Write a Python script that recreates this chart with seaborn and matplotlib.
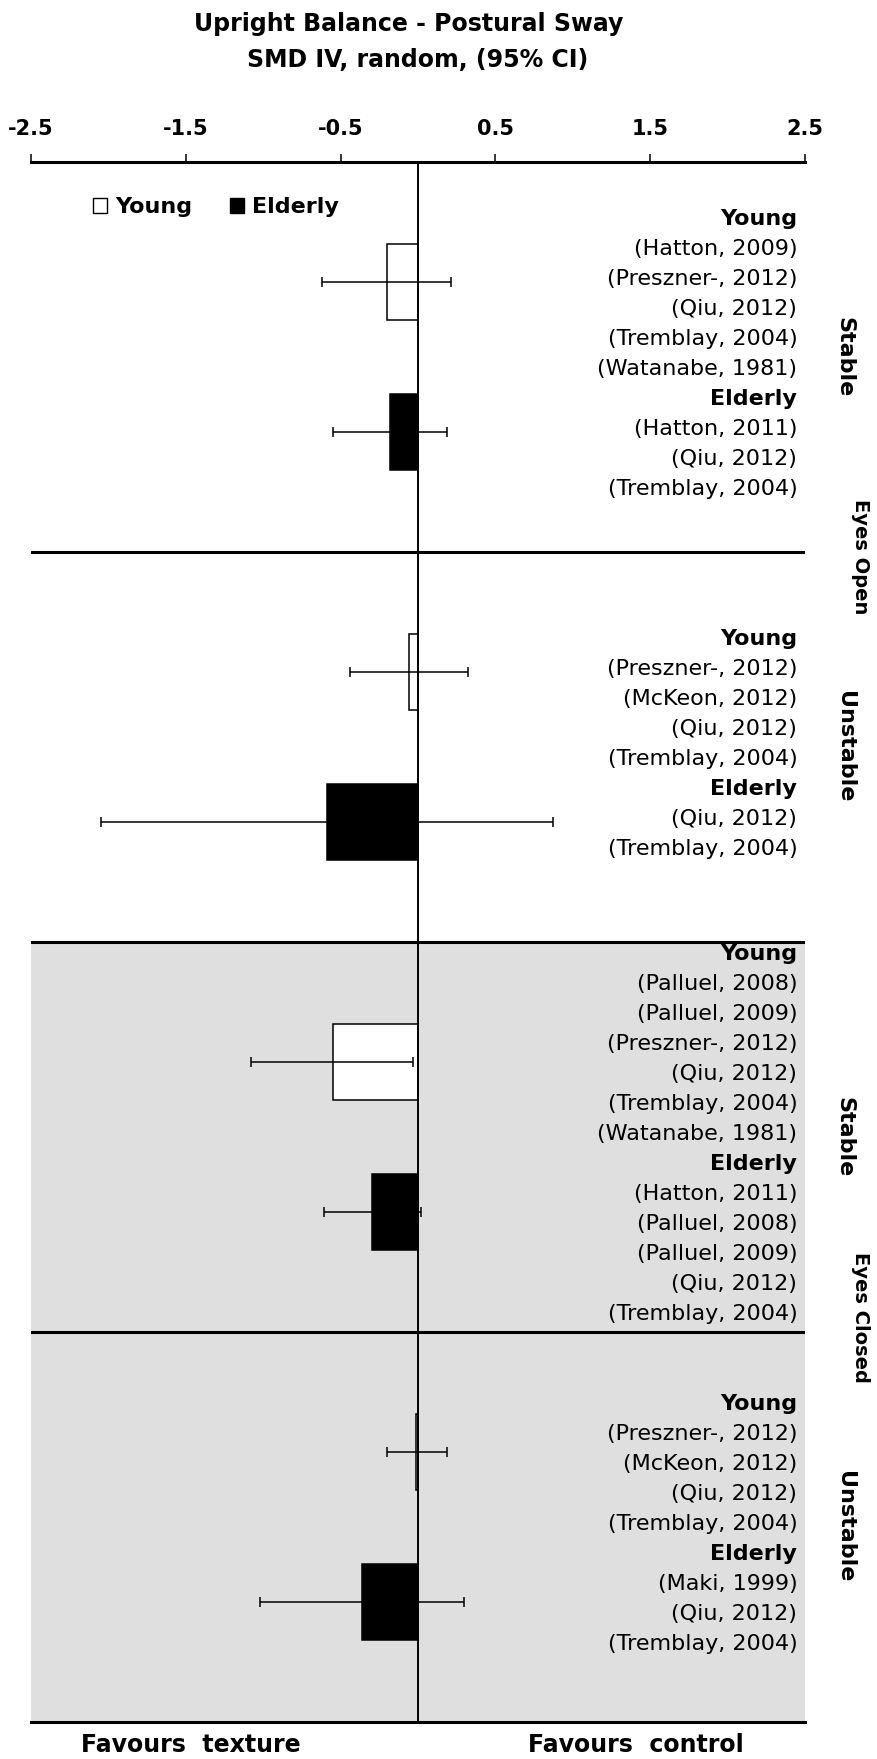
import numpy as np
import pandas as pd
import seaborn as sns
import matplotlib.pyplot as plt
import matplotlib.patches as mpatches

# pooled effects (SMD, 95% CI) per panel: young then elderly
panels = ["Stable", "Unstable", "Stable", "Unstable"]
conditions = ["Eyes Open", "Eyes Closed"]
groups = ["Young", "Elderly"] * 4
smd = [-0.20, -0.18, -0.06, -0.59, -0.55, -0.30, -0.01, -0.36]
ci_low = [-0.62, -0.55, -0.44, -2.05, -1.08, -0.61, -0.20, -1.02]
ci_high = [0.21, 0.19, 0.32, 0.87, -0.03, 0.02, 0.19, 0.30]

young_studies = [
    ["Hatton, 2009", "Preszner-, 2012", "Qiu, 2012", "Tremblay, 2004", "Watanabe, 1981"],
    ["Preszner-, 2012", "McKeon, 2012", "Qiu, 2012", "Tremblay, 2004"],
    ["Palluel, 2008", "Palluel, 2009", "Preszner-, 2012", "Qiu, 2012", "Tremblay, 2004", "Watanabe, 1981"],
    ["Preszner-, 2012", "McKeon, 2012", "Qiu, 2012", "Tremblay, 2004"],
]
elderly_studies = [
    ["Hatton, 2011", "Qiu, 2012", "Tremblay, 2004"],
    ["Qiu, 2012", "Tremblay, 2004"],
    ["Hatton, 2011", "Palluel, 2008", "Palluel, 2009", "Qiu, 2012", "Tremblay, 2004"],
    ["Maki, 1999", "Qiu, 2012", "Tremblay, 2004"],
]

x_ticks = [-2.5, -1.5, -0.5, 0.5, 1.5, 2.5]

# layout (row units, 13 rows per panel)
ROWS = 13
BAR_ROW = {"Young": 4, "Elderly": 9}
BAR_H = 2.55

sns.set_style("white")
plt.rcParams["font.family"] = ["DejaVu Sans"]
plt.rcParams["text.color"] = "black"
plt.rcParams["xtick.color"] = "black"
plt.rcParams["axes.edgecolor"] = "black"

fig = plt.figure(figsize=(8.78, 17.59), dpi=100)
W, H = 878, 1759
ax = fig.add_axes([31 / W, 1 - 1722 / H, 774 / W, 1560 / H])

pos = [i // 2 * ROWS + BAR_ROW[g] for i, g in enumerate(groups)]
df = pd.DataFrame({"pos": pos, "smd": smd, "group": groups})
native = np.diff(np.unique(pos)).min()

# grey background for eyes closed
ax.axhspan(2 * ROWS, 4 * ROWS, color="#dfdfdf", zorder=0, lw=0)

sns.barplot(data=df, x="smd", y="pos", hue="group", hue_order=["Young", "Elderly"],
            orient="y", native_scale=True, dodge=False,
            palette={"Young": "white", "Elderly": "black"},
            edgecolor="black", linewidth=1.1, width=BAR_H / native,
            errorbar=None, legend=False, ax=ax, zorder=3)

lo = np.array(smd) - np.array(ci_low)
hi = np.array(ci_high) - np.array(smd)
ax.errorbar(smd, pos, xerr=[lo, hi], fmt="none", ecolor="black",
            elinewidth=1.1, capsize=3.3, capthick=1.1, zorder=4)

ax.axvline(0, color="black", lw=1.4, zorder=5)
for k in range(1, 4):
    ax.axhline(k * ROWS, color="black", lw=2.2, zorder=5)

ax.set_xlim(-2.5, 2.5)
ax.set_ylim(4 * ROWS, 0)

# axis on top
ax.xaxis.tick_top()
ax.set_xticks(x_ticks)
ax.set_xticklabels([f"{t:g}" for t in x_ticks], fontsize=15, fontweight="bold")
ax.tick_params(axis="x", direction="out", length=5.8, width=1.1, pad=11, top=True,
               bottom=False, colors="black")
ax.set_yticks([])
ax.set_xlabel("")
ax.set_ylabel("")
for side in ["left", "right"]:
    ax.spines[side].set_visible(False)
ax.spines["top"].set_linewidth(2.2)
ax.spines["bottom"].set_linewidth(2.2)

# study labels
for p in range(4):
    rows = ["Young"] + young_studies[p] + ["Elderly"] + elderly_studies[p]
    bold = [True] + [False] * len(young_studies[p]) + [True] + [False] * len(elderly_studies[p])
    start = p * ROWS + (ROWS - len(rows)) / 2 + 0.4
    for j, (txt, b) in enumerate(zip(rows, bold)):
        label = txt if b else f"({txt})"
        ax.text(2.45, start + j, label, ha="right", va="center", fontsize=16,
                fontweight="bold" if b else "normal", zorder=6)
    ax.text(2.757, p * ROWS + ROWS / 2, panels[p], rotation=270, ha="center", va="center",
            fontsize=16, fontweight="bold", clip_on=False)

for c, cond in enumerate(conditions):
    ax.text(2.86, (2 * c + 1) * ROWS + (0.15 if c == 0 else -0.5), cond, rotation=270,
            ha="center", va="center", fontsize=14, fontweight="bold", clip_on=False)

ax.text(-1.47, 52.77, "Favours  texture", ha="center", va="center", fontsize=17,
        fontweight="bold", clip_on=False)
ax.text(1.41, 52.77, "Favours  control", ha="center", va="center", fontsize=17,
        fontweight="bold", clip_on=False)

handles = [mpatches.Patch(facecolor="white", edgecolor="black", lw=1),
           mpatches.Patch(facecolor="black", edgecolor="black", lw=1)]
ax.legend(handles, ["Young", "Elderly"], ncol=2, frameon=False, loc="center left",
          bbox_to_anchor=(0.08, 1 - 45 / 1560), borderaxespad=0, borderpad=0,
          handlelength=0.65, handleheight=0.65, handletextpad=0.35, columnspacing=1.7,
          prop={"size": 16, "weight": "bold"})

fig.text(409 / W, 1 - 24 / H, "Upright Balance - Postural Sway", ha="center", va="center",
         fontsize=17, fontweight="bold")
fig.text(418 / W, 1 - 60 / H, "SMD IV, random, (95% CI)", ha="center", va="center",
         fontsize=17, fontweight="bold")

fig.savefig("out.png", dpi=100)
